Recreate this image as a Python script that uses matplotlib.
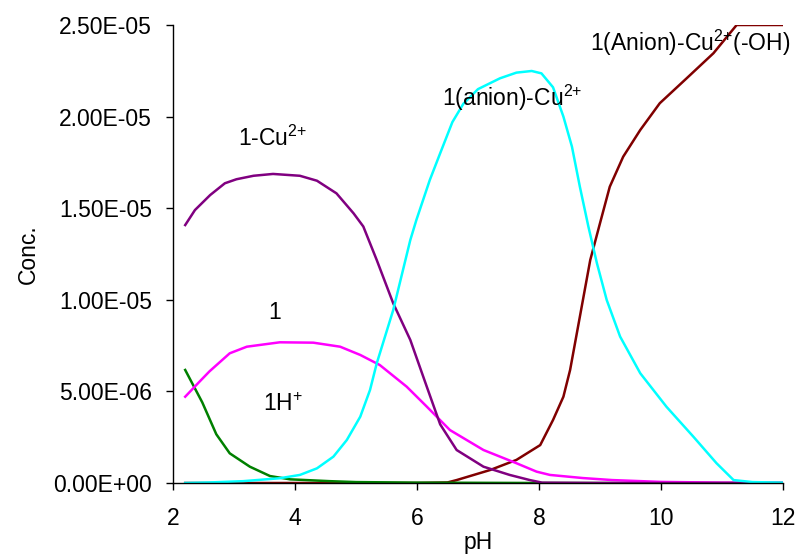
import matplotlib
matplotlib.use("Agg")
import matplotlib.pyplot as plt
from matplotlib.ticker import FuncFormatter, MultipleLocator

plt.rcParams['font.family'] = ['Liberation Sans', 'DejaVu Sans']
plt.rcParams['mathtext.fontset'] = 'custom'
plt.rcParams['mathtext.rm'] = 'Liberation Sans'
plt.rcParams['mathtext.it'] = 'Liberation Sans'
plt.rcParams['mathtext.bf'] = 'Liberation Sans:bold'

SCALE = 1e-5

# 1-Cu2+ (purple)
ph_cu = [2.2, 2.36, 2.61, 2.85, 3.04, 3.32, 3.64, 4.08, 4.36, 4.68, 4.96, 5.12, 5.34,
         5.61, 5.89, 6.16, 6.38, 6.65, 7.09, 7.52, 7.85, 8.05, 9.0, 10.0, 11.0, 12.0]
c_cu = [1.408, 1.49, 1.572, 1.636, 1.658, 1.677, 1.687, 1.677, 1.65, 1.581, 1.472, 1.40, 1.217,
        0.981, 0.781, 0.526, 0.320, 0.180, 0.089, 0.044, 0.016, 0.002, 0.0, 0.0, 0.0, 0.0]

# 1 (magenta)
ph_l = [2.2, 2.44, 2.6, 2.93, 3.21, 3.75, 4.30, 4.74, 5.07, 5.39, 5.83, 6.16, 6.54,
        7.09, 7.63, 7.96, 8.18, 8.72, 9.2, 10.0, 11.0, 12.0]
c_l = [0.471, 0.555, 0.610, 0.708, 0.744, 0.768, 0.766, 0.744, 0.699, 0.644, 0.526, 0.417, 0.289,
       0.180, 0.108, 0.062, 0.044, 0.027, 0.016, 0.006, 0.002, 0.001]

# 1H+ (green)
ph_h = [2.2, 2.48, 2.71, 2.93, 3.26, 3.59, 3.92, 4.57, 5.0, 6.0, 7.0, 8.0, 9.0, 10.0, 11.0, 12.0]
c_h = [0.617, 0.44, 0.266, 0.162, 0.089, 0.038, 0.02, 0.01, 0.005, 0.002, 0.001, 0.0, 0.0, 0.0, 0.0, 0.0]

# 1(anion)-Cu2+ (cyan)
ph_a = [2.2, 2.6, 3.15, 3.75, 4.08, 4.36, 4.63, 4.85, 5.07, 5.23, 5.34, 5.61, 5.89, 5.99,
        6.21, 6.38, 6.58, 6.76, 7.0, 7.36, 7.63, 7.88, 8.04, 8.23, 8.40, 8.54, 8.67, 8.81, 8.95,
        9.11, 9.33, 9.66, 10.09, 10.53, 10.91, 11.19, 11.5, 12.0]
c_a = [0.0, 0.003, 0.01, 0.026, 0.044, 0.08, 0.144, 0.235, 0.362, 0.508, 0.653, 0.944, 1.326, 1.436,
       1.654, 1.80, 1.97, 2.07, 2.15, 2.209, 2.240, 2.249, 2.236, 2.160, 2.0, 1.836, 1.617, 1.399, 1.199,
       0.999, 0.799, 0.599, 0.416, 0.253, 0.108, 0.016, 0.005, 0.002]

# 1(Anion)-Cu2+(-OH) (dark red)
ph_o = [2.2, 4.0, 6.0, 6.5, 6.65, 7.2, 7.63, 8.02, 8.23, 8.40, 8.51, 8.62, 8.73, 8.84, 9.00,
        9.16, 9.38, 9.66, 9.98, 10.42, 10.86, 11.24, 12.0]
c_o = [0.0, 0.0, 0.0, 0.003, 0.016, 0.071, 0.126, 0.207, 0.344, 0.471, 0.617, 0.817, 1.017, 1.217, 1.418,
       1.617, 1.781, 1.927, 2.073, 2.209, 2.346, 2.5, 2.5]

series = [
    (ph_o, c_o, '#800000'),
    (ph_h, c_h, '#008000'),
    (ph_l, c_l, '#FF00FF'),
    (ph_cu, c_cu, '#800080'),
    (ph_a, c_a, '#00FFFF'),
]

labels = [
    ('1-Cu$^{2{+}}$', 3.64, 1.88),
    ('1(anion)-Cu$^{2{+}}$', 7.56, 2.10),
    ('1(Anion)-Cu$^{2{+}}$(-OH)', 10.47, 2.40),
    ('1', 3.67, 0.93),
    ('1H$^{+}$', 3.80, 0.43),
]

fig = plt.figure(figsize=(7.98, 5.58), dpi=100)
ax = fig.add_axes([173/798, 1-483/558, (783-173)/798, (483-25)/558])

for x, y, col in series:
    ax.plot(x, [v * SCALE for v in y], color=col, lw=1.8, solid_joinstyle='round')

for txt, x, y in labels:
    ax.text(x, y * SCALE, txt, fontsize=16.5, ha='center', va='center', clip_on=False)

ax.set_xlim(2, 12)
ax.set_ylim(0, 2.5e-5)
ax.xaxis.set_major_locator(MultipleLocator(2))
ax.yaxis.set_major_locator(MultipleLocator(5e-6))
ax.yaxis.set_major_formatter(FuncFormatter(lambda v, p: f"{v:.2E}"))
for s in ['top', 'right']:
    ax.spines[s].set_visible(False)
for s in ['left', 'bottom']:
    ax.spines[s].set_linewidth(1.0)
ax.tick_params(axis='both', direction='out', length=5, width=1.0, labelsize=16.5)
ax.tick_params(axis='x', pad=12)
ax.tick_params(axis='y', pad=10)
ax.set_xlabel('pH', fontsize=16.5, labelpad=1)
ax.set_ylabel('Conc.', fontsize=16.5, labelpad=10)

fig.savefig('out.png', dpi=100)
